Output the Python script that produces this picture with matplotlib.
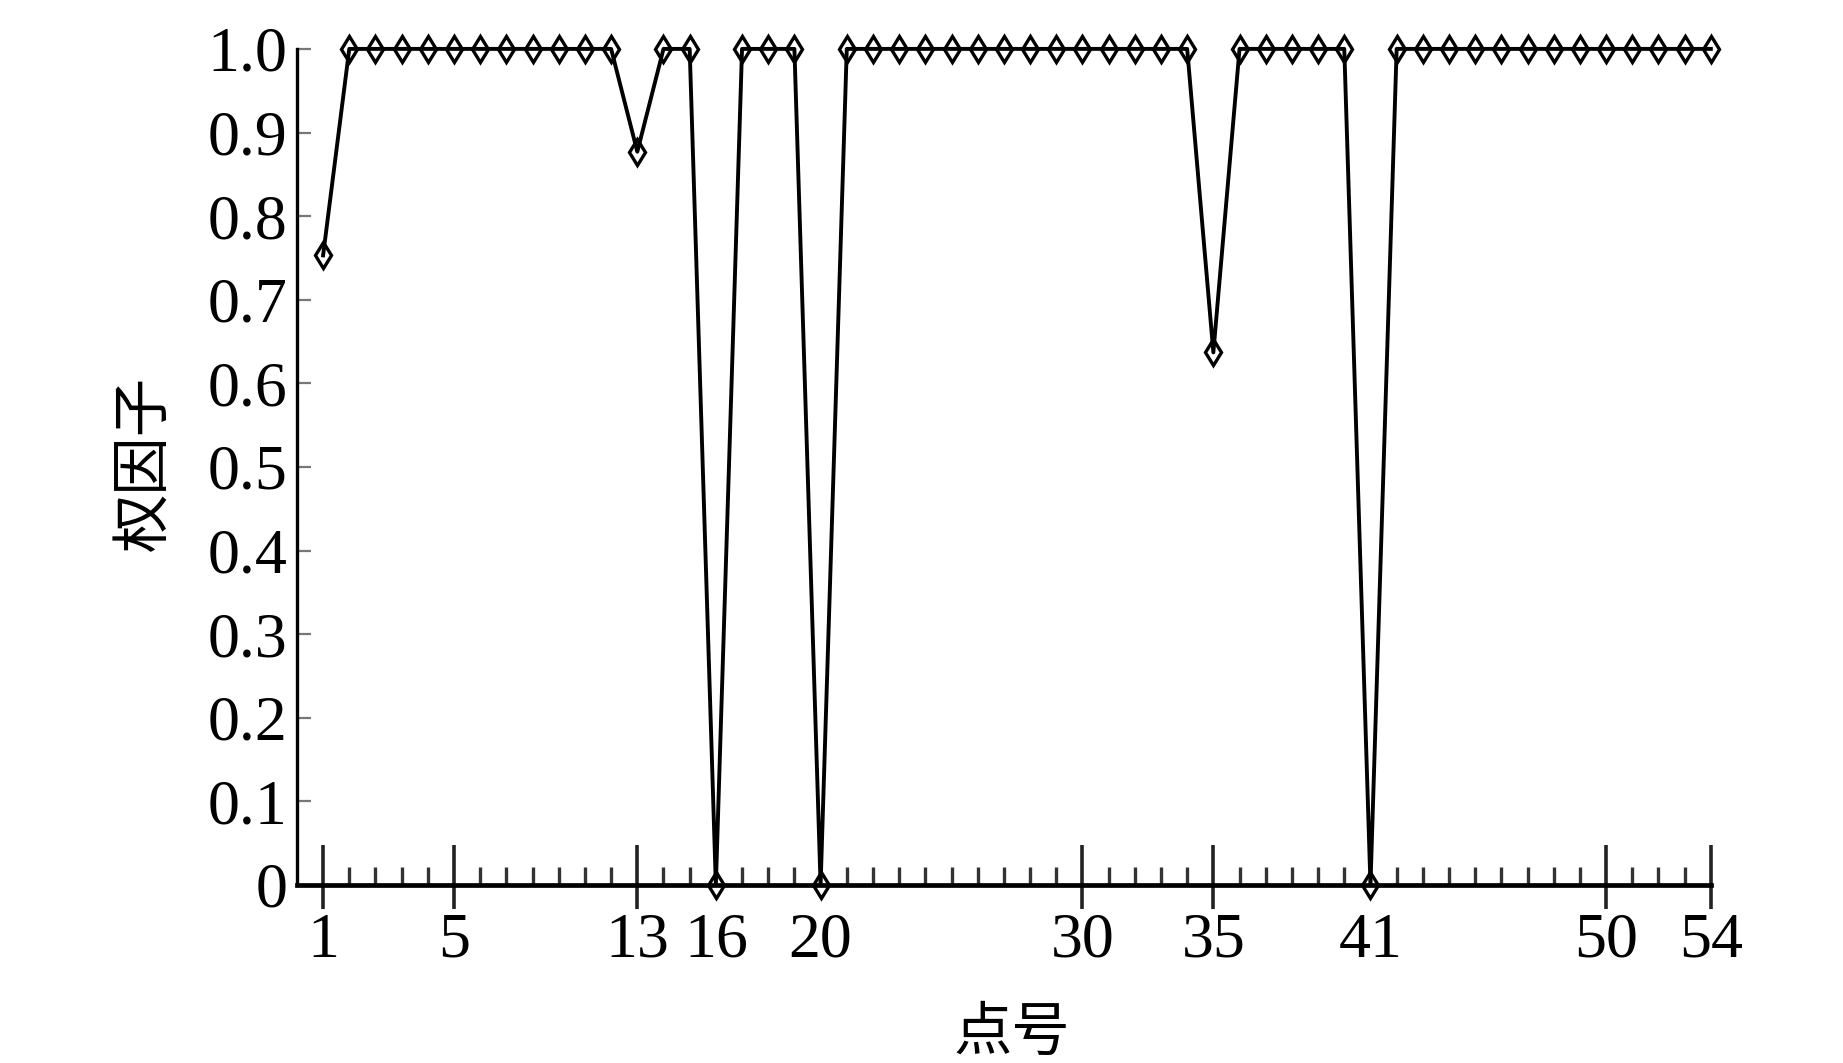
import numpy as np
import matplotlib.pyplot as plt
from matplotlib.ticker import FixedLocator

# 数据：点号与权因子
points = np.arange(1, 55)
weights = [0.753] + [1.0] * 11 + [0.877, 1.0, 1.0, 0.0, 1.0, 1.0, 1.0, 0.0] \
    + [1.0] * 14 + [0.637] + [1.0] * 5 + [0.0] + [1.0] * 13

# 原图中标注“5”的主刻度落在第 6 个点处
major_pos = [1, 6, 13, 16, 20, 30, 35, 41, 50, 54]
major_lab = ['1', '5', '13', '16', '20', '30', '35', '41', '50', '54']
no_tick_x = [16, 20, 41]
y_ticks = [0, 0.1, 0.2, 0.3, 0.4, 0.5, 0.6, 0.7, 0.8, 0.9, 1.0]
y_labels = ['0', '0.1', '0.2', '0.3', '0.4', '0.5', '0.6', '0.7', '0.8', '0.9', '1.0']

serif = 'Liberation Serif'
cjk = 'Noto Sans CJK SC'

fig = plt.figure(figsize=(18.43, 10.63), dpi=100)
ax = fig.add_axes([0.1611, 0.1675, 0.7672, 0.7865])

# 标记先画，折线在上
ax.plot(points, weights, ls='none', marker='d', ms=13, mfc='white', mec='black',
        mew=2.4, zorder=3, clip_on=False)
ax.plot(points, weights, color='black', lw=2.8, zorder=4, clip_on=False)

ax.set_xlim(0, 54)
ax.set_ylim(0, 1.0)

for s in ['top', 'right']:
    ax.spines[s].set_visible(False)
ax.spines['left'].set_linewidth(2.4)
ax.spines['bottom'].set_linewidth(3.4)
ax.spines['bottom'].set_zorder(5)

# x 轴刻度
ax.set_xticks(major_pos)
ax.set_xticklabels(major_lab, fontfamily=serif, fontsize=46)
ax.xaxis.set_minor_locator(FixedLocator(points))
ax.tick_params(axis='x', which='major', direction='in', length=29, width=2.6,
               color='#222222', pad=20)
ax.tick_params(axis='x', which='minor', direction='in', length=13, width=2.4,
               color='#333333')
for v, t in zip(major_pos, ax.xaxis.get_major_ticks()):
    if v in no_tick_x:
        t.tick1line.set_visible(False)

# 主刻度向下的短线
sec = ax.secondary_xaxis('bottom')
sec.set_xticks([v for v in major_pos if v not in no_tick_x])
sec.set_xticklabels([])
sec.tick_params(direction='out', length=17, width=2.6, color='#222222')
sec.spines['bottom'].set_visible(False)

# y 轴刻度
ax.set_yticks(y_ticks)
ax.set_yticklabels(y_labels, fontfamily=serif, fontsize=46)
ax.tick_params(axis='y', direction='in', length=10, width=1.6, color='#777777', pad=7)
ax.yaxis.get_major_ticks()[-1].tick1line.set_color('black')

ax.text(-0.108, 0.504, '权因子', transform=ax.transAxes, rotation=90,
        ha='center', va='center', fontfamily=cjk, fontsize=42, fontweight='light')
ax.text(0.506, -0.178, '点号', transform=ax.transAxes,
        ha='center', va='center', fontfamily=cjk, fontsize=42, fontweight='light')

fig.savefig('out.png', dpi=100)
